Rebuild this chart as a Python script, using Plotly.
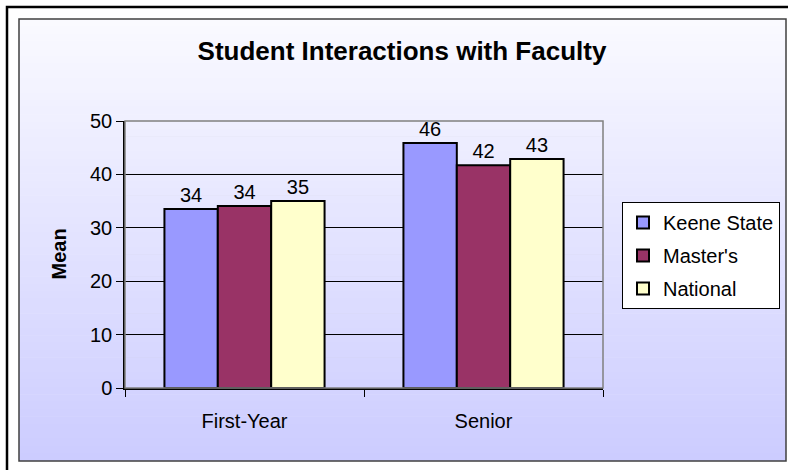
import plotly.graph_objects as go

categories = ["First-Year", "Senior"]
keene_state = [33.5, 45.9]
masters = [34.1, 41.7]
national = [35.0, 42.9]

series = [
    ("Keene State", keene_state, "#9999FF"),
    ("Master's", masters, "#993366"),
    ("National", national, "#FFFFCC"),
]

W, H = 788, 470
# plot area in pixels
L, R, T, B = 125, 603, 121, 388


def px2x(px):
    return (px - L) / (R - L)


def px2y(py):
    return (B - py) / (B - T)


fig = go.Figure()
for name, vals, color in series:
    fig.add_trace(
        go.Bar(
            name=name,
            x=categories,
            y=vals,
            legendgroup=name,
            marker=dict(color=color, line=dict(color="black", width=2)),
            texttemplate="%{y:.0f}",
            textposition="outside",
            textfont=dict(family="Arial", size=20, color="black"),
            cliponaxis=False,
        )
    )

# background gradient, white at top to lavender at bottom
shapes = []
top_px, bot_px = 19, 461
steps = 60
c0 = (250, 250, 255)
c1 = (204, 204, 255)
for i in range(steps):
    y0 = top_px + (bot_px - top_px) * i / steps
    y1 = top_px + (bot_px - top_px) * (i + 1) / steps
    f = (i + 0.5) / steps
    col = tuple(round(a + (b - a) * f) for a, b in zip(c0, c1))
    shapes.append(
        dict(
            type="rect", xref="paper", yref="paper", layer="below",
            x0=px2x(19), x1=px2x(786), y0=px2y(y1), y1=px2y(y0) + 0.002,
            fillcolor="rgb(%d,%d,%d)" % col, line=dict(width=0),
        )
    )
# inner frame
shapes.append(
    dict(
        type="rect", xref="paper", yref="paper", layer="below",
        x0=px2x(19), x1=px2x(786), y0=px2y(461), y1=px2y(19),
        line=dict(color="#404040", width=1.5), fillcolor="rgba(0,0,0,0)",
    )
)
# outer black frame
shapes.append(
    dict(
        type="rect", xref="paper", yref="paper", layer="below",
        x0=px2x(7), x1=px2x(800), y0=px2y(480), y1=px2y(7),
        line=dict(color="black", width=2.5), fillcolor="rgba(0,0,0,0)",
    )
)
# plot area border (top/right gray)
shapes.append(
    dict(
        type="rect", xref="paper", yref="paper", layer="above",
        x0=0, x1=1, y0=0, y1=1,
        line=dict(color="#808080", width=1.5), fillcolor="rgba(0,0,0,0)",
    )
)

fig.update_layout(
    width=W,
    height=H,
    margin=dict(l=L, r=W - R, t=T, b=H - B, pad=0, autoexpand=False),
    paper_bgcolor="white",
    plot_bgcolor="#C0C0C0",
    font=dict(family="Arial", size=20, color="black"),
    barmode="group",
    bargap=0.33,
    bargroupgap=0,
    title=dict(
        text="<b>Student Interactions with Faculty</b>",
        x=402 / W, xanchor="center",
        y=1 - 51 / H, yanchor="middle",
        font=dict(family="Arial", size=26, color="black"),
    ),
    showlegend=True,
    legend=dict(
        xref="container", yref="container",
        x=622 / W, xanchor="left",
        y=1 - 202 / H, yanchor="top",
        bgcolor="white",
        bordercolor="black",
        borderwidth=1,
        font=dict(family="Arial", size=20, color="black"),
        traceorder="grouped",
        tracegroupgap=4,
        itemwidth=30,
    ),
    shapes=shapes,
    annotations=[
        dict(
            text="<b>Mean</b>", xref="paper", yref="paper",
            x=px2x(58), y=0.5, xanchor="center", yanchor="middle",
            textangle=-90, showarrow=False,
            font=dict(family="Arial", size=20, color="black"),
        )
    ],
)

fig.update_yaxes(
    range=[0, 50],
    dtick=10,
    showgrid=True,
    gridcolor="black",
    gridwidth=1,
    showline=True,
    linecolor="black",
    linewidth=1.5,
    ticks="outside",
    ticklen=7,
    tickcolor="black",
    zeroline=False,
    tickfont=dict(family="Arial", size=20),
)
fig.update_xaxes(
    showline=True,
    linecolor="black",
    linewidth=1.5,
    ticks="outside",
    tickson="boundaries",
    ticklen=7,
    tickcolor="black",
    ticklabelstandoff=14,
    tickfont=dict(family="Arial", size=20),
)

fig.write_html(
    "out.html",
    config={"displayModeBar": False},
    post_script="document.body.style.margin='0';",
)
